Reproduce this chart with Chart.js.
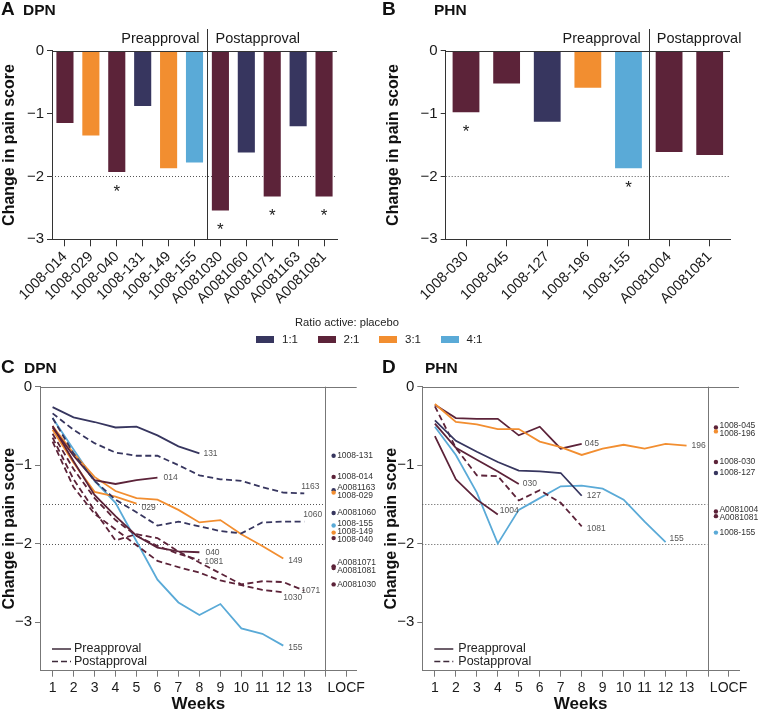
<!DOCTYPE html>
<html>
<head>
<meta charset="utf-8">
<script src="https://cdn.jsdelivr.net/npm/chart.js@4.4.1/dist/chart.umd.min.js"></script>
<style>
  body { margin: 0; background: #fff; }
  #wrap { position: relative; width: 758px; height: 710px; overflow: hidden; font-family: "Liberation Sans", Arial, sans-serif; color: #222; }
  canvas { position: absolute; }
  #legendTitle { position: absolute; left: 295px; top: 316px; font-size: 11.2px; z-index: 2; }
  #legend { position: absolute; left: 256px; top: 333px; display: flex; z-index: 2; }
  #legend .item { width: 61.5px; display: flex; align-items: center; font-size: 11.5px; }
  #legend .sw { width: 18px; height: 7px; margin-right: 8px; }
</style>
</head>
<body>
<div id="wrap">
  <canvas id="chartA" width="379" height="330" style="left:0;top:0"></canvas>
  <canvas id="chartB" width="379" height="330" style="left:379px;top:0"></canvas>
  <canvas id="chartC" width="379" height="380" style="left:0;top:330px"></canvas>
  <canvas id="chartD" width="379" height="380" style="left:379px;top:330px"></canvas>
  <div id="legendTitle">Ratio active: placebo</div>
  <div id="legend"></div>
</div>
<script>
// ---- data ----
const ratioLabels = ["1:1", "2:1", "3:1", "4:1"];
const ratioColors = { "1:1": "#37365f", "2:1": "#5c2339", "3:1": "#f28e30", "4:1": "#5aaad7" };

// A: DPN, change from baseline (bars)
const dpnStudies = ["1008-014", "1008-029", "1008-040", "1008-131", "1008-149", "1008-155", "A0081030", "A0081060", "A0081071", "A0081163", "A0081081"];
const dpnChange = [-1.15, -1.35, -1.93, -0.88, -1.87, -1.78, -2.54, -1.62, -2.32, -1.2, -2.32];
const dpnRatio = ["2:1", "3:1", "2:1", "1:1", "3:1", "4:1", "2:1", "1:1", "2:1", "1:1", "2:1"];
const dpnSig = [false, false, true, false, false, false, true, false, true, false, true];
const dpnPreCount = 6;

// B: PHN, change from baseline (bars)
const phnStudies = ["1008-030", "1008-045", "1008-127", "1008-196", "1008-155", "A0081004", "A0081081"];
const phnChange = [-0.98, -0.52, -1.13, -0.59, -1.87, -1.61, -1.66];
const phnRatio = ["2:1", "2:1", "1:1", "3:1", "4:1", "2:1", "2:1"];
const phnSig = [true, false, false, false, true, false, false];
const phnPreCount = 5;

// C/D: weekly change
const weeks = [1, 2, 3, 4, 5, 6, 7, 8, 9, 10, 11, 12, 13];
const yTicks = [-3, -2, -1, 0];

const dpnW131 = [-0.26, -0.39, -0.45, -0.52, -0.51, -0.62, -0.76, -0.85];
const dpnW1163 = [-0.34, -0.55, -0.72, -0.84, -0.88, -0.88, -1.0, -1.13, -1.18, -1.2, -1.28, -1.35, -1.36];
const dpnW014 = [-0.52, -0.88, -1.19, -1.24, -1.19, -1.16];
const dpnW029 = [-0.55, -0.97, -1.34, -1.4, -1.49];
const dpnW149 = [-0.5, -0.85, -1.15, -1.33, -1.42, -1.44, -1.57, -1.73, -1.7, -1.88, -2.03, -2.19];
const dpnW040 = [-0.5, -0.95, -1.38, -1.65, -1.9, -2.05, -2.1, -2.11];
const dpnW1081 = [-0.6, -1.05, -1.42, -1.7, -1.9, -2.03, -2.13, -2.21];
const dpnW1030 = [-0.7, -1.28, -1.62, -1.82, -2.02, -2.22, -2.3, -2.37, -2.47, -2.53, -2.59, -2.62];
const dpnW1071 = [-0.65, -1.18, -1.58, -1.96, -1.88, -1.93, -2.1, -2.24, -2.38, -2.52, -2.48, -2.49, -2.6];
const dpnW1060 = [-0.4, -0.85, -1.2, -1.44, -1.6, -1.77, -1.72, -1.78, -1.84, -1.87, -1.73, -1.72, -1.72];
const dpnW155 = [-0.4, -0.8, -1.2, -1.48, -1.97, -2.46, -2.75, -2.91, -2.77, -3.08, -3.15, -3.3];

const phnW045 = [-0.23, -0.4, -0.41, -0.41, -0.62, -0.51, -0.79, -0.73];
const phnW196 = [-0.22, -0.45, -0.48, -0.54, -0.54, -0.7, -0.77, -0.87, -0.79, -0.74, -0.79, -0.73, -0.75];
const phnW030 = [-0.47, -0.78, -0.93, -1.08, -1.24];
const phnW127 = [-0.43, -0.69, -0.83, -0.96, -1.07, -1.08, -1.1, -1.39];
const phnW1004 = [-0.63, -1.18, -1.44, -1.63];
const phnW1081 = [-0.25, -0.78, -1.13, -1.14, -1.45, -1.32, -1.48, -1.78];
const phnW155 = [-0.51, -0.87, -1.35, -2.0, -1.57, -1.42, -1.27, -1.26, -1.3, -1.44, -1.72, -1.98];

// LOCF
const dpnLocfStudies = ["1008-131", "1008-014", "A0081163", "1008-029", "A0081060", "1008-155", "1008-149", "1008-040", "A0081071", "A0081081", "A0081030"];
const dpnLocfValues = [-0.88, -1.15, -1.32, -1.35, -1.61, -1.77, -1.86, -1.93, -2.29, -2.31, -2.52];
const dpnLocfRatio = ["1:1", "2:1", "1:1", "3:1", "1:1", "4:1", "3:1", "2:1", "2:1", "2:1", "2:1"];

const phnLocfStudies = ["1008-045", "1008-196", "1008-030", "1008-127", "A0081004", "A0081081", "1008-155"];
const phnLocfValues = [-0.52, -0.57, -0.96, -1.1, -1.59, -1.65, -1.86];
const phnLocfRatio = ["2:1", "3:1", "2:1", "1:1", "2:1", "2:1", "4:1"];

// [tag, values, ratio, dashed]
const dpnSeries = [
  ["131", dpnW131, "1:1", false],
  ["1163", dpnW1163, "1:1", true],
  ["1060", dpnW1060, "1:1", true],
  ["014", dpnW014, "2:1", false],
  ["040", dpnW040, "2:1", false],
  ["1081", dpnW1081, "2:1", true],
  ["1030", dpnW1030, "2:1", true],
  ["1071", dpnW1071, "2:1", true],
  ["029", dpnW029, "3:1", false],
  ["149", dpnW149, "3:1", false],
  ["155", dpnW155, "4:1", false]
];
const phnSeries = [
  ["196", phnW196, "3:1", false],
  ["045", phnW045, "2:1", false],
  ["127", phnW127, "1:1", false],
  ["030", phnW030, "2:1", false],
  ["1004", phnW1004, "2:1", false],
  ["1081", phnW1081, "2:1", true],
  ["155", phnW155, "4:1", false]
];

// label nudges (px) for end-of-line tags
const dpnNudge = { "014": [4, 0], "029": [3, 4], "1163": [-5, -7], "1060": [-3, -7], "149": [3, 2], "040": [4, 0], "1081": [3, 2], "1030": [-2, 5], "1071": [-5, 0], "155": [3, 2] };
const phnNudge = { "045": [1, 0], "196": [3, 0], "030": [2, 0], "127": [3, 0], "1004": [0, -4], "1081": [3, 2], "155": [2, -3] };

// ---- setup ----
Chart.defaults.font.family = '"Liberation Sans", Arial, sans-serif';
Chart.defaults.color = "#1a1a1a";

const legendEl = document.getElementById("legend");
legendEl.innerHTML = ratioLabels.map((r) => `<div class="item"><span class="sw" style="background:${ratioColors[r]}"></span>${r}</div>`).join("");

const fmtY = (v) => (v === 0 ? "0" : "\u2212" + Math.abs(v));

function hline(ctx, x1, x2, y) {
  const py = Math.round(y) + 0.5;
  ctx.beginPath(); ctx.moveTo(x1, py); ctx.lineTo(x2, py); ctx.stroke();
}
function vline(ctx, x, y1, y2) {
  const px = Math.round(x) + 0.5;
  ctx.beginPath(); ctx.moveTo(px, y1); ctx.lineTo(px, y2); ctx.stroke();
}
function drawTitle(ctx, letter, disease, lx, dx, base) {
  ctx.fillStyle = "#111";
  ctx.textBaseline = "alphabetic";
  ctx.textAlign = "left";
  ctx.font = 'bold 19px "Liberation Sans", Arial, sans-serif';
  ctx.fillText(letter, lx, base);
  ctx.font = 'bold 15.5px "Liberation Sans", Arial, sans-serif';
  ctx.fillText(disease, dx, base);
}

function barChart(id, letter, disease, studies, change, ratios, sig, preCount, box) {
  const decor = {
    id: "barDecor",
    beforeDatasetsDraw(chart) {
      const { ctx, chartArea: a, scales: { y } } = chart;
      ctx.save();
      ctx.strokeStyle = "#555";
      ctx.lineWidth = 1;
      ctx.setLineDash([1, 2]);
      hline(ctx, a.left, a.right, y.getPixelForValue(-2));
      ctx.restore();
    },
    afterDatasetsDraw(chart) {
      const { ctx, chartArea: a, scales: { x, y } } = chart;
      ctx.save();
      ctx.strokeStyle = "#333";
      ctx.lineWidth = 1;
      hline(ctx, a.left, a.right, y.getPixelForValue(0));
      const xd = (x.getPixelForValue(preCount - 1) + x.getPixelForValue(preCount)) / 2;
      vline(ctx, xd, 29, a.bottom);
      ctx.fillStyle = "#1a1a1a";
      ctx.font = '14.5px "Liberation Sans", Arial, sans-serif';
      ctx.textBaseline = "alphabetic";
      ctx.textAlign = "right";
      ctx.fillText("Preapproval", xd - 8, 43);
      ctx.textAlign = "left";
      ctx.fillText("Postapproval", xd + 8, 43);
      ctx.font = '17px "Liberation Sans", Arial, sans-serif';
      ctx.textAlign = "center";
      change.forEach((v, i) => {
        if (sig[i]) ctx.fillText("*", x.getPixelForValue(i), y.getPixelForValue(v) + 15 + 9.8);
      });
      drawTitle(ctx, letter, disease, box.lx, box.dx, 15);
      ctx.restore();
    }
  };
  return new Chart(document.getElementById(id), {
    type: "bar",
    data: {
      labels: studies,
      datasets: [{
        data: change,
        backgroundColor: ratios.map((r) => ratioColors[r]),
        barPercentage: 0.66,
        categoryPercentage: 1,
        borderWidth: 0
      }]
    },
    options: {
      responsive: false,
      animation: false,
      layout: { padding: { left: box.padLeft, top: 50.7, right: box.padRight, bottom: 0 } },
      plugins: { legend: { display: false }, tooltip: { enabled: false } },
      scales: {
        x: {
          grid: { drawOnChartArea: false, offset: false, tickLength: 7, color: "#333" },
          border: { color: "#333" },
          ticks: { autoSkip: false, minRotation: 45, maxRotation: 45, font: { size: 14.5 }, padding: 2 },
          afterFit(s) { s.height = 90.7; }
        },
        y: {
          min: -3,
          max: 0,
          afterBuildTicks(s) { s.ticks = yTicks.map((v) => ({ value: v })); },
          ticks: { callback: fmtY, font: { size: 15 }, padding: 3 },
          grid: { drawOnChartArea: false, tickLength: 5, color: "#333" },
          border: { color: "#333" },
          title: { display: true, text: "Change in pain score", font: { size: 16, weight: "bold" }, color: "#111", padding: 0 },
          afterFit(s) { s.width = box.yWidth; }
        }
      }
    },
    plugins: [decor]
  });
}

function spread(ys, gap) {
  const order = ys.map((v, i) => i).sort((a, b) => ys[a] - ys[b]);
  const groups = order.map((i) => ({ ids: [i], mean: ys[i] }));
  let merged = true;
  while (merged) {
    merged = false;
    for (let k = 0; k < groups.length - 1; k++) {
      const g1 = groups[k], g2 = groups[k + 1];
      const end1 = g1.mean + ((g1.ids.length - 1) * gap) / 2;
      const start2 = g2.mean - ((g2.ids.length - 1) * gap) / 2;
      if (start2 - end1 < gap) {
        const ids = g1.ids.concat(g2.ids);
        const mean = ids.reduce((s, i) => s + ys[i], 0) / ids.length;
        groups.splice(k, 2, { ids, mean });
        merged = true;
        break;
      }
    }
  }
  const out = [];
  groups.forEach((g) => g.ids.forEach((i, j) => (out[i] = g.mean + (j - (g.ids.length - 1) / 2) * gap)));
  return out;
}

function weekChart(id, letter, disease, series, nudge, locfStudies, locfValues, locfRatio, box) {
  const locfX = 14.4;
  const datasets = series.map(([tag, vals, ratio, dashed]) => ({
    data: vals.map((v, i) => ({ x: weeks[i], y: v })),
    borderColor: ratioColors[ratio],
    borderWidth: 1.8,
    borderDash: dashed ? [6, 3.5] : [],
    pointRadius: 0,
    tension: 0,
    fill: false,
    tag: tag
  }));
  datasets.push({
    data: locfValues.map((v) => ({ x: locfX, y: v })),
    showLine: false,
    pointRadius: 2.2,
    pointBorderWidth: 0,
    pointBackgroundColor: locfRatio.map((r) => ratioColors[r])
  });

  const decor = {
    id: "weekDecor",
    beforeDatasetsDraw(chart) {
      const { ctx, chartArea: a, scales: { x, y } } = chart;
      const xd = x.getPixelForValue(14);
      ctx.save();
      ctx.lineWidth = 1;
      ctx.strokeStyle = "#555";
      ctx.setLineDash([1, 2]);
      [-1.5, -2].forEach((v) => hline(ctx, a.left, xd, y.getPixelForValue(v)));
      ctx.setLineDash([]);
      ctx.strokeStyle = "#777";
      vline(ctx, xd, a.top, a.bottom + 6);
      hline(ctx, a.left, a.right, y.getPixelForValue(0));
      ctx.restore();
    },
    afterDatasetsDraw(chart) {
      const { ctx, chartArea: a, scales: { x, y } } = chart;
      ctx.save();
      // end-of-line tags
      ctx.font = '8.5px "Liberation Sans", Arial, sans-serif';
      ctx.fillStyle = "#555";
      ctx.textAlign = "left";
      ctx.textBaseline = "middle";
      chart.data.datasets.forEach((ds, i) => {
        if (!ds.tag) return;
        const meta = chart.getDatasetMeta(i);
        const pt = meta.data[meta.data.length - 1];
        const [dx, dy] = nudge[ds.tag] || [2, 0];
        ctx.fillText(ds.tag, pt.x + 2 + dx, pt.y + dy);
      });
      // LOCF tags
      ctx.fillStyle = "#333";
      const ys = locfValues.map((v) => y.getPixelForValue(v));
      const ly = spread(ys, 8);
      const lx = x.getPixelForValue(locfX) + 3.5;
      locfStudies.forEach((s, i) => ctx.fillText(s, lx, ly[i]));
      // line style key
      const k1 = a.bottom - 21.7, k2 = a.bottom - 9.2;
      ctx.strokeStyle = "#3d2a3a";
      ctx.lineWidth = 1.5;
      ctx.beginPath(); ctx.moveTo(a.left + 12, k1); ctx.lineTo(a.left + 31, k1); ctx.stroke();
      ctx.setLineDash([6, 3]);
      ctx.beginPath(); ctx.moveTo(a.left + 12, k2); ctx.lineTo(a.left + 31, k2); ctx.stroke();
      ctx.setLineDash([]);
      ctx.fillStyle = "#222";
      ctx.font = '12.5px "Liberation Sans", Arial, sans-serif';
      ctx.fillText("Preapproval", a.left + box.keyText, k1);
      ctx.fillText("Postapproval", a.left + box.keyText, k2);
      drawTitle(ctx, letter, disease, box.lx, box.dx, 42.7);
      ctx.restore();
    }
  };

  return new Chart(document.getElementById(id), {
    type: "line",
    data: { datasets },
    options: {
      responsive: false,
      animation: false,
      layout: { padding: { left: box.padLeft, top: 56.7, right: box.padRight, bottom: 0 } },
      plugins: { legend: { display: false }, tooltip: { enabled: false } },
      scales: {
        x: {
          type: "linear",
          min: 0.4,
          max: 15.5,
          afterBuildTicks(s) { s.ticks = weeks.concat([15]).map((v) => ({ value: v })); },
          ticks: { autoSkip: false, maxRotation: 0, font: { size: 14 }, padding: 3, callback: (v) => (v === 15 ? "LOCF" : v) },
          grid: { drawOnChartArea: false, tickLength: 6, color: "#777" },
          border: { color: "#777" },
          title: { display: true, text: "Weeks", font: { size: 17, weight: "bold" }, color: "#111", padding: { top: 0, bottom: -5 } },
          afterFit(s) { s.height = 39.3; }
        },
        y: {
          min: -3.62,
          max: 0,
          afterBuildTicks(s) { s.ticks = yTicks.map((v) => ({ value: v })); },
          ticks: { callback: fmtY, font: { size: 15 }, padding: 3 },
          grid: { drawOnChartArea: false, tickLength: 5, color: "#777" },
          border: { color: "#777" },
          title: { display: true, text: "Change in pain score", font: { size: 16, weight: "bold" }, color: "#111", padding: 0 },
          afterFit(s) { s.width = box.yWidth; }
        }
      }
    },
    plugins: [decor]
  });
}

barChart("chartA", "A", "DPN", dpnStudies, dpnChange, dpnRatio, dpnSig, dpnPreCount,
  { padLeft: 0, yWidth: 52, padRight: 42, lx: 1, dx: 23 });
barChart("chartB", "B", "PHN", phnStudies, phnChange, phnRatio, phnSig, phnPreCount,
  { padLeft: 5, yWidth: 61.7, padRight: 28, lx: 3, dx: 55 });
weekChart("chartC", "C", "DPN", dpnSeries, dpnNudge, dpnLocfStudies, dpnLocfValues, dpnLocfRatio,
  { padLeft: 0, yWidth: 40, padRight: 22.3, lx: 1, dx: 24, keyText: 34 });
weekChart("chartD", "D", "PHN", phnSeries, phnNudge, phnLocfStudies, phnLocfValues, phnLocfRatio,
  { padLeft: 3, yWidth: 40.3, padRight: 19, lx: 3, dx: 46, keyText: 36 });
</script>
</body>
</html>
